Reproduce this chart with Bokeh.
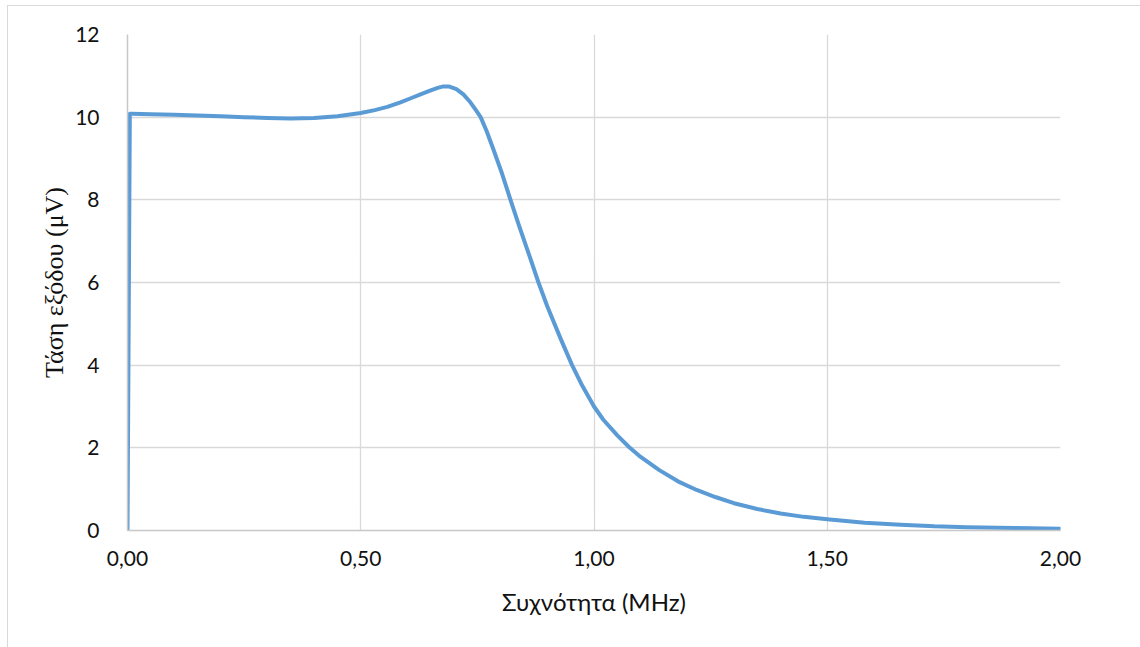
from bokeh.plotting import figure
from bokeh.models import FixedTicker, Range1d
from bokeh.embed import file_html
from bokeh.resources import INLINE

# Frequency (MHz) and output voltage (μV)
freq_mhz = [0.0, 0.005, 0.01, 0.05, 0.1, 0.15, 0.2, 0.25, 0.3, 0.35, 0.4, 0.45,
            0.5, 0.53, 0.557, 0.585, 0.61, 0.628, 0.65, 0.665, 0.675, 0.69,
            0.705, 0.72, 0.735, 0.745, 0.757, 0.77, 0.785, 0.803, 0.821, 0.84,
            0.86, 0.881, 0.90, 0.93, 0.953, 0.975, 1.0, 1.02, 1.05, 1.075,
            1.1, 1.14, 1.18, 1.22, 1.26, 1.3, 1.35, 1.4, 1.45, 1.5, 1.58,
            1.657, 1.73, 1.8, 1.9, 2.0]
voltage_uv = [0.0, 10.08, 10.08, 10.07, 10.06, 10.04, 10.02, 10.0, 9.98, 9.97,
              9.98, 10.02, 10.1, 10.17, 10.25, 10.36, 10.47, 10.55, 10.65,
              10.71, 10.74, 10.74, 10.68, 10.55, 10.36, 10.2, 10.0, 9.66,
              9.2, 8.63, 8.0, 7.35, 6.7, 6.0, 5.42, 4.6, 4.0, 3.5, 3.0, 2.68,
              2.3, 2.02, 1.78, 1.46, 1.19, 0.98, 0.81, 0.66, 0.52, 0.41, 0.33,
              0.27, 0.19, 0.14, 0.1, 0.08, 0.06, 0.04]

x_ticks = [0.0, 0.5, 1.0, 1.5, 2.0]
x_tick_labels = ["0,00", "0,50", "1,00", "1,50", "2,00"]
y_ticks = [0, 2, 4, 6, 8, 10, 12]

x_title = "Συχνότητα (MHz)"
y_title = "Τάση εξόδου (μV)"

p = figure(width=1140, height=647, output_backend="svg", toolbar_location=None,
           x_range=Range1d(0, 2), y_range=Range1d(0, 12),
           min_border_left=127, min_border_right=80,
           min_border_top=34, min_border_bottom=117)
p.frame_width = 933
p.frame_height = 496
p.outline_line_color = None
p.background_fill_color = "white"
p.border_fill_color = None
# outer light-grey chart border: only its left and top edges fall inside the window
p.styles = {
    "background-color": "white",
    "box-shadow": "inset 7px 5px 0 0 white, inset 8px 6px 0 0 #d9d9d9",
}

p.line(freq_mhz, voltage_uv, line_color="#5B9BD5", line_width=4,
       line_join="round", line_cap="round")

for ax in (p.xaxis[0], p.yaxis[0]):
    ax.major_tick_line_color = None
    ax.minor_tick_line_color = None
    ax.axis_line_color = "#c8c8c8"
    ax.axis_line_width = 1.5
    ax.major_label_text_font = "Lato"
    ax.major_label_text_font_size = "21px"
    ax.major_label_text_color = "#111111"
    ax.axis_label_text_font_style = "normal"
    ax.axis_label_text_color = "#111111"

p.xaxis.ticker = FixedTicker(ticks=x_ticks)
p.xaxis.major_label_overrides = {t: l for t, l in zip(x_ticks, x_tick_labels)}
p.xaxis.major_label_standoff = 14
p.xaxis.axis_label = x_title
p.xaxis.axis_label_text_font = "Lato"
p.xaxis.axis_label_text_font_size = "24px"
p.xaxis.axis_label_standoff = 18

p.yaxis.ticker = FixedTicker(ticks=y_ticks)
p.yaxis.major_label_standoff = 22
p.yaxis.axis_label = y_title
p.yaxis.axis_label_text_font = "Liberation Serif"
p.yaxis.axis_label_text_font_size = "26px"
p.yaxis.axis_label_standoff = 3

p.xgrid.ticker = FixedTicker(ticks=x_ticks)
p.ygrid.ticker = FixedTicker(ticks=y_ticks)
p.grid.grid_line_color = "#d9d9d9"
p.grid.grid_line_width = 1.3

open("out.html", "w").write(file_html(p, INLINE))
